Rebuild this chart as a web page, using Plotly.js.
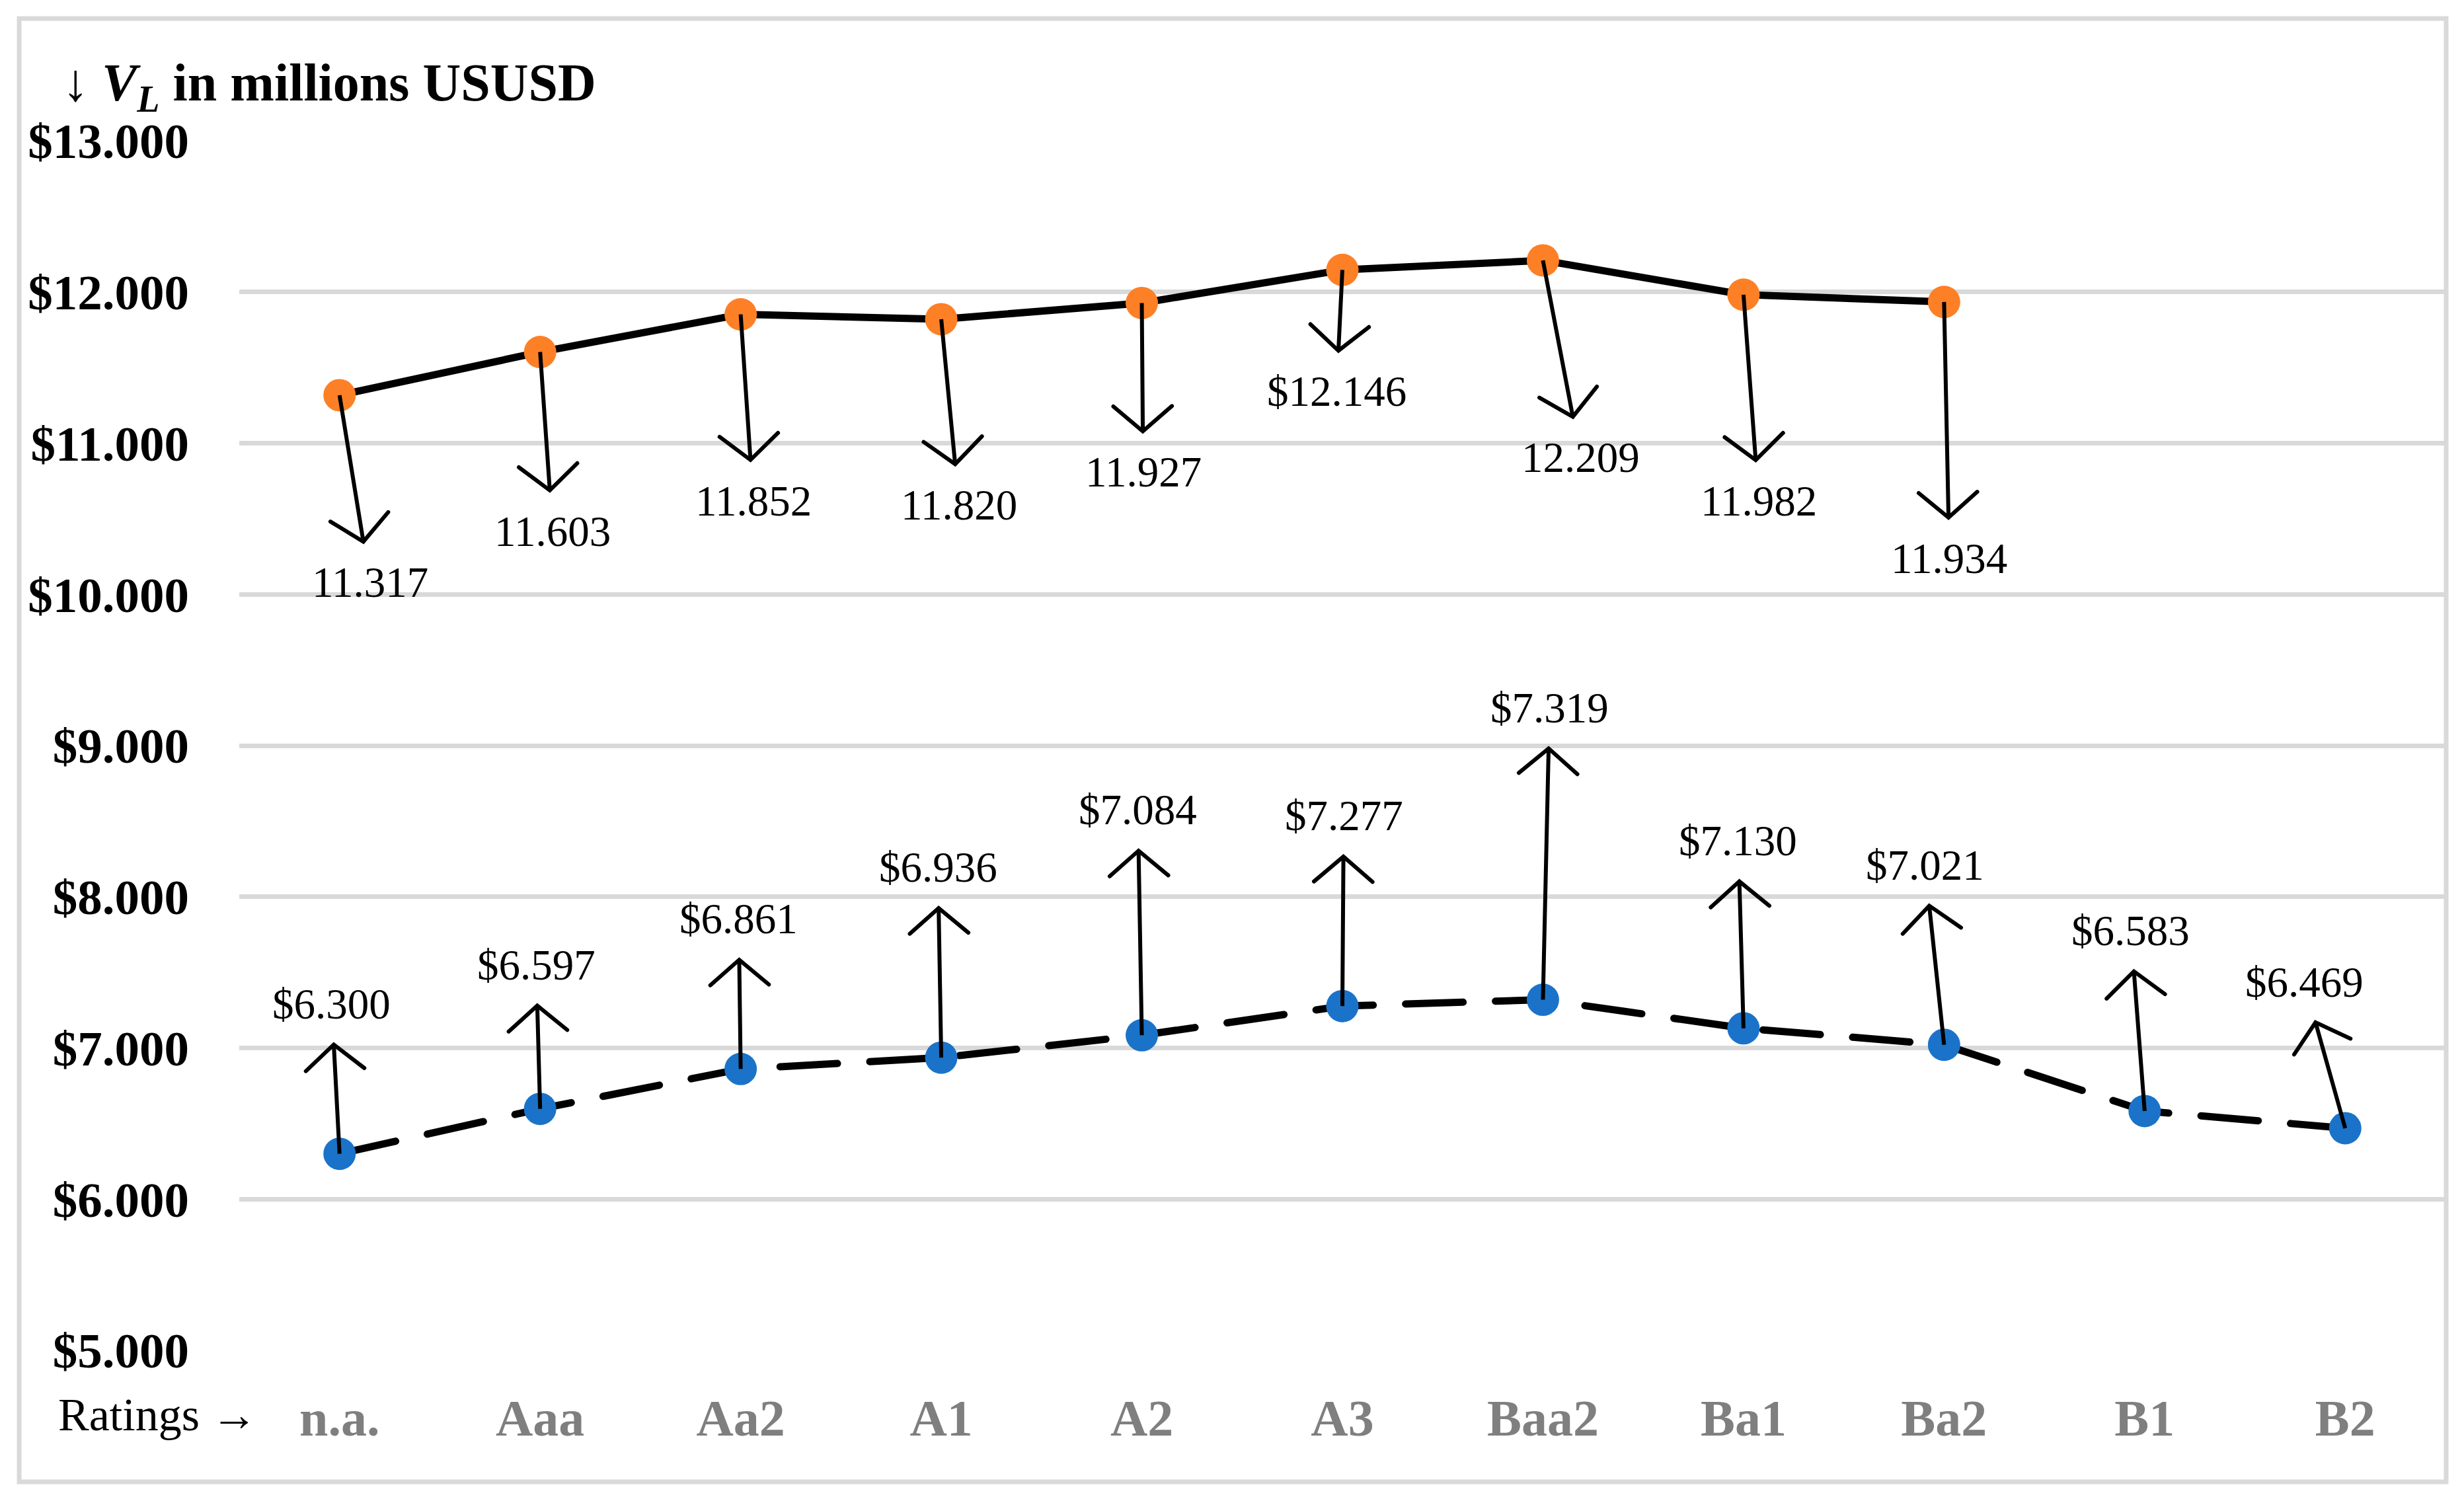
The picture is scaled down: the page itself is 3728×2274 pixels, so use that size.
<!DOCTYPE html>
<html>
<head>
<meta charset="utf-8">
<script src="https://cdn.plot.ly/plotly-3.0.1.min.js"></script>
<style>html,body{margin:0;padding:0;background:#fff;}#chart{width:3728px;height:2274px;}</style>
</head>
<body>
<div id="chart"></div>
<script>
// ---- data ----
const categories = ['n.a.', 'Aaa', 'Aa2', 'A1', 'A2', 'A3', 'Baa2', 'Ba1', 'Ba2', 'B1', 'B2'];
const vlUpper = [11317, 11603, 11852, 11820, 11927, 12146, 12209, 11982, 11934, null, null];
const vlLower = [6300, 6597, 6861, 6936, 7084, 7277, 7319, 7130, 7021, 6583, 6469];
const upperLabels = ['11.317', '11.603', '11.852', '11.820', '11.927', '$12.146', '12.209', '11.982', '11.934'];
const lowerLabels = ['$6.300', '$6.597', '$6.861', '$6.936', '$7.084', '$7.277', '$7.319', '$7.130', '$7.021', '$6.583', '$6.469'];
const yTickVals = [5000, 6000, 7000, 8000, 9000, 10000, 11000, 12000, 13000];
const yTickText = ['$5.000', '$6.000', '$7.000', '$8.000', '$9.000', '$10.000', '$11.000', '$12.000', '$13.000'];

// ---- label placement (pixel offsets of label from point) ----
const upperOffsets = [[46, 283], [19, 271], [19, 282], [27, 281], [2, 256], [-9, 184], [57, 298], [23, 312], [8, 388]];
const lowerOffsets = [[-12, -227], [-6, -218], [-3, -227], [-5, -288], [-6, -341], [2, -288], [10, -442], [-8, -284], [-29, -272], [-21, -273], [-62, -221]];

const W = 3728, H = 2274;
const M = {l: 362, r: 28, t: 213, b: 231};
const PW = W - M.l - M.r, PH = H - M.t - M.b;
const px2x = p => (p - M.l) / PW;
const px2y = p => 1 - (p - M.t) / PH;

const serif = 'Liberation Serif, Times New Roman, serif';

const traces = [
  {
    x: categories, y: vlUpper, type: 'scatter', mode: 'lines+markers',
    line: {color: '#000000', width: 11},
    marker: {color: '#FD8027', size: 49, line: {width: 0}},
    hoverinfo: 'skip', showlegend: false, cliponaxis: false
  },
  {
    x: categories, y: vlLower, type: 'scatter', mode: 'lines+markers',
    line: {color: '#000000', width: 11, dash: '87px,49px'},
    marker: {color: '#1A73C8', size: 49, line: {width: 0}},
    hoverinfo: 'skip', showlegend: false, cliponaxis: false
  }
];

const annotations = [];
function arrowLabel(cat, val, text, off, standoff) {
  return {
    x: cat, y: val, xref: 'x', yref: 'y', text: text,
    showarrow: true, ax: off[0], ay: off[1],
    arrowside: 'start', startarrowhead: 5, startarrowsize: 2.11,
    arrowwidth: 6, arrowcolor: '#000000', startstandoff: standoff, standoff: 0,
    borderpad: 0,
    font: {family: serif, size: 65, color: '#000000'}
  };
}
upperLabels.forEach((t, i) => annotations.push(arrowLabel(categories[i], vlUpper[i], t, upperOffsets[i], 0)));
lowerLabels.forEach((t, i) => annotations.push(arrowLabel(categories[i], vlLower[i], t, lowerOffsets[i], 0)));

annotations.push({
  xref: 'paper', yref: 'paper', x: px2x(92), y: px2y(131), xanchor: 'left', yanchor: 'middle',
  showarrow: false,
  text: '↓ <b><i>V</i><sub><i>L</i></sub> in millions USUSD</b>',
  font: {family: serif, size: 80, color: '#000000'}
});
annotations.push({
  xref: 'paper', yref: 'paper', x: px2x(86), y: px2y(2140), xanchor: 'left', yanchor: 'middle',
  showarrow: false,
  text: 'Ratings →',
  font: {family: serif, size: 70, color: '#000000'}
});

const layout = {
  width: W, height: H,
  margin: M,
  paper_bgcolor: '#ffffff', plot_bgcolor: '#ffffff',
  showlegend: false,
  xaxis: {
    type: 'category', range: [-0.5, 10.5], showgrid: false, zeroline: false, showline: false,
    ticks: '', ticklabelstandoff: 50,
    tickfont: {family: serif, size: 78, color: '#7F7F7F', weight: 'bold'},
    fixedrange: true
  },
  yaxis: {
    range: [5000, 13000], tickvals: yTickVals, ticktext: yTickText,
    showgrid: true, gridcolor: '#D9D9D9', gridwidth: 7, zeroline: false, showline: false,
    ticks: '', ticklabelstandoff: 75,
    tickfont: {family: serif, size: 75, color: '#000000', weight: 'bold'},
    fixedrange: true
  },
  shapes: [{
    type: 'rect', xref: 'paper', yref: 'paper',
    x0: px2x(29), x1: px2x(3701), y0: px2y(2242), y1: px2y(28),
    line: {color: '#D9D9D9', width: 7}, layer: 'below'
  }],
  annotations: annotations
};

// restyle arrowheads as open V shapes and give line caps a rounded end
function refine(gd) {
  gd.querySelectorAll('g.annotation path').forEach(p => {
    const tr = p.getAttribute('transform') || '';
    if (tr.indexOf('rotate') >= 0) {
      p.setAttribute('d', 'M-3,-3.5L0,0L-3,3.5');
      p.style.fill = 'none';
      p.style.stroke = '#000000';
      p.style.strokeWidth = '6px';
      p.style.strokeLinecap = 'round';
      p.style.strokeLinejoin = 'miter';
      p.setAttribute('vector-effect', 'non-scaling-stroke');
    }
  });
  gd.querySelectorAll('.scatterlayer .js-line').forEach(p => {
    p.style.strokeLinecap = 'round';
    p.style.strokeLinejoin = 'round';
  });
}

Plotly.newPlot('chart', traces, layout, {displayModeBar: false, staticPlot: true}).then(gd => {
  refine(gd);
  gd.on('plotly_afterplot', () => refine(gd));
});
</script>
</body>
</html>
